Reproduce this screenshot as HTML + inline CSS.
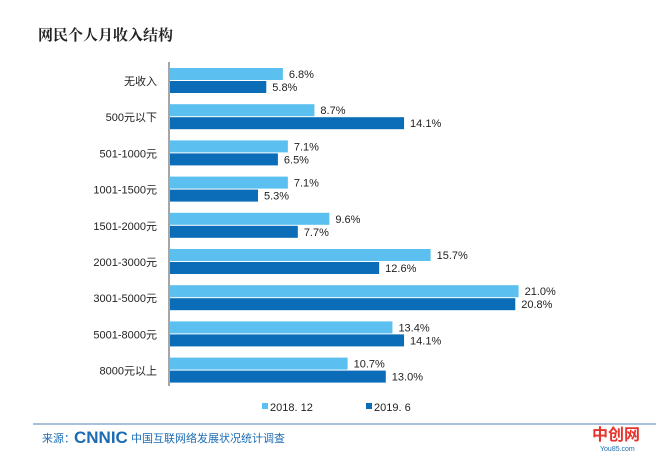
<!DOCTYPE html><html><head><meta charset="utf-8"><style>
body{margin:0;width:660px;height:458px;background:#fff;overflow:hidden;font-family:"Liberation Sans","Noto Sans CJK SC",sans-serif;position:relative}
.a{position:absolute;white-space:nowrap}
</style></head><body>
<svg width="660" height="458" style="position:absolute;left:0;top:0" font-family="Liberation Sans, Noto Sans CJK SC, sans-serif">
<text x="38" y="40" font-size="15" font-weight="bold" fill="#222" font-family="Noto Serif CJK SC, serif">网民个人月收入结构</text>
<line x1="169" y1="62" x2="169" y2="386" stroke="#888" stroke-width="1.5"/>
<g id="bars" font-size="11" fill="#222"></g>
<rect x="262" y="403" width="6" height="6" fill="#5bc0ef"/>
<text x="270" y="411" font-size="11" fill="#222">2018. 12</text>
<rect x="366" y="403" width="6" height="6" fill="#0b6cb7"/>
<text x="374" y="411" font-size="11" fill="#222">2019. 6</text>
<line x1="33" y1="424" x2="656" y2="424" stroke="#a9c0dc" stroke-width="2"/>
<text x="42" y="442" font-size="11" fill="#1a6cb4">来源：</text>
<text x="74" y="443" font-size="17" font-weight="bold" fill="#1a6cb4">CNNIC</text>
<text x="131" y="442" font-size="11" fill="#1a6cb4">中国互联网络发展状况统计调查</text>
<text x="592" y="440" font-size="16" font-weight="bold" fill="#e8322b">中创网</text>
<text x="600" y="451" font-size="7" fill="#1a6cb4">You85.com</text>
</svg>
<script>
var d=[["无收入",6.8,5.8],["500元以下",8.7,14.1],["501-1000元",7.1,6.5],["1001-1500元",7.1,5.3],["1501-2000元",9.6,7.7],["2001-3000元",15.7,12.6],["3001-5000元",21.0,20.8],["5001-8000元",13.4,14.1],["8000元以上",10.7,13.0]];
var g=document.getElementById('bars'),s='',k=16.6;
d.forEach(function(r,i){var y=68+i*36.2;
s+='<rect x="170" y="'+y+'" width="'+(r[1]*k)+'" height="12" fill="#5bc0ef"/>';
s+='<rect x="170" y="'+(y+13)+'" width="'+(r[2]*k)+'" height="12" fill="#0b6cb7"/>';
s+='<text x="'+(169+r[1]*k+7)+'" y="'+(y+10)+'">'+r[1].toFixed(1)+'%</text>';
s+='<text x="'+(169+r[2]*k+7)+'" y="'+(y+23)+'">'+r[2].toFixed(1)+'%</text>';
s+='<text x="157" y="'+(y+17)+'" text-anchor="end">'+r[0]+'</text>';});
g.innerHTML=s;
</script>
</body></html>
